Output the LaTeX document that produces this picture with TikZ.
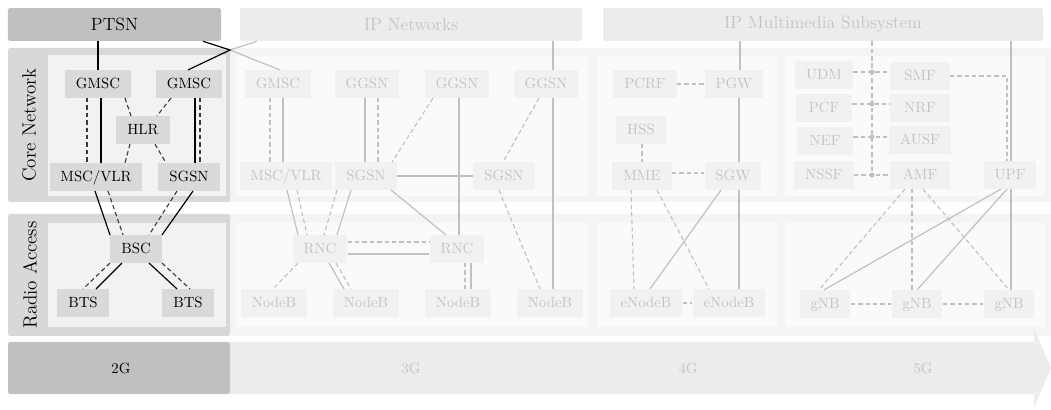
\documentclass[tikz,border=0pt]{standalone}
\usetikzlibrary{calc}
\definecolor{barA}{HTML}{C0C0C0}
\definecolor{bandA}{HTML}{D8D8D8}
\definecolor{panelA}{HTML}{F2F2F2}
\definecolor{nodeA}{HTML}{D9D9D9}
\definecolor{bandF}{HTML}{F4F4F4}
\definecolor{panelF}{HTML}{FAFAFA}
\definecolor{nodeF}{HTML}{F1F1F1}
\definecolor{barF}{HTML}{ECECEC}
\definecolor{txtF}{HTML}{C4C4C4}
\definecolor{lineF}{HTML}{C0C0C0}
\definecolor{dashAc}{HTML}{3A3A3A}
\tikzset{
  box/.style={inner xsep=7.4pt, inner ysep=0pt, minimum height=18.6pt, text height=1.6ex, text depth=0.25ex, font=\normalsize},
  nodeon/.style={box, fill=nodeA, text=black},
  nodeoff/.style={box, fill=nodeF, text=txtF},
  colL/.style={minimum width=37.9pt},
  colR/.style={minimum width=39.9pt},
  barbox/.style={rounded corners=1.5pt, font=\large, inner sep=0pt},
  sidelabel/.style={rotate=90, font=\fontsize{12.9pt}{15pt}\selectfont},
  solidA/.style={line width=0.8pt, black},
  dashA/.style={line width=0.75pt, dashAc, dash pattern=on 3pt off 2pt},
  solidF/.style={line width=0.8pt, lineF},
  dashF/.style={line width=0.75pt, lineF, dash pattern=on 3pt off 2pt},
  junc/.style={circle, fill=lineF, inner sep=0pt, minimum size=3.4pt, draw=none},
}
\begin{document}
\begin{tikzpicture}[x=0.676pt,y=-0.676pt]
\useasboundingbox (0,0) rectangle (1051,410);
% ---------- bands and panels ----------
\fill[bandF] (230,48) rectangle (1051,202);
\fill[bandF] (230,214) rectangle (1051,336);
\fill[bandA, rounded corners=1.5pt] (8,48) rectangle (230,202);
\fill[bandA, rounded corners=1.5pt] (8,214) rectangle (230,336);
\fill[panelA] (48,55) rectangle (226,196);
\fill[panelA] (48,223) rectangle (226,327);
\fill[panelF] (236,56) rectangle (588,196);
\fill[panelF] (597,56) rectangle (777,196);
\fill[panelF] (785,56) rectangle (1045,196);
\fill[panelF] (236,223) rectangle (588,327);
\fill[panelF] (597,223) rectangle (777,327);
\fill[panelF] (785,223) rectangle (1045,327);
\node[sidelabel] (cn) at (29,125) {Core Network};
\node[sidelabel] (ra) at (30,275) {Radio Access};
% ---------- top bars ----------
\node[barbox, fill=barA, text=black, minimum width=144pt, minimum height=22.3pt] (ptsn) at (114.5,24.5) {PTSN};
\node[barbox, fill=barF, text=txtF, minimum width=231.2pt, minimum height=22.3pt] (ipnet) at (411,24.5) {IP Networks};
\node[barbox, fill=barF, text=txtF, minimum width=297.4pt, minimum height=22.3pt] (ims) at (823,24.5) {IP Multimedia Subsystem};
% ---------- bottom arrow ----------
\fill[barF] (230,342) -- (1034,342) -- (1034,328) -- (1051,368) -- (1034,408) -- (1034,394) -- (230,394) -- cycle;
\fill[barA, rounded corners=1.5pt] (8,342) rectangle (230,394);
\node[text=black] (t2g) at (121,368) {2G};
\node[text=txtF] (t3g) at (411,368) {3G};
\node[text=txtF] (t4g) at (688,368) {4G};
\node[text=txtF] (t5g) at (923,368) {5G};
% ---------- 2G nodes ----------
\node[nodeon] (gmscA) at (98,84) {GMSC};
\node[nodeon] (gmscB) at (189,84) {GMSC};
\node[nodeon] (hlr) at (143,130) {HLR};
\node[nodeon] (mscA) at (96,177) {MSC/VLR};
\node[nodeon] (sgsnA) at (189,177) {SGSN};
\node[nodeon] (bsc) at (136,249) {BSC};
\node[nodeon] (btsA) at (83,303) {BTS};
\node[nodeon] (btsB) at (188,303) {BTS};
% ---------- 3G nodes ----------
\node[nodeoff] (gmscC) at (278,84) {GMSC};
\node[nodeoff] (ggsnA) at (367,84) {GGSN};
\node[nodeoff] (ggsnB) at (457,84) {GGSN};
\node[nodeoff] (ggsnC) at (546,84) {GGSN};
\node[nodeoff] (mscB) at (286,176) {MSC/VLR};
\node[nodeoff] (sgsnB) at (366,176) {SGSN};
\node[nodeoff] (sgsnC) at (504,176) {SGSN};
\node[nodeoff] (rncA) at (320,249) {RNC};
\node[nodeoff] (rncB) at (457,249) {RNC};
\node[nodeoff] (nbA) at (274,303) {NodeB};
\node[nodeoff] (nbB) at (366,303) {NodeB};
\node[nodeoff] (nbC) at (458,303) {NodeB};
\node[nodeoff] (nbD) at (550,303) {NodeB};
% ---------- 4G nodes ----------
\node[nodeoff] (pcrf) at (645,84) {PCRF};
\node[nodeoff] (pgw) at (734,84) {PGW};
\node[nodeoff] (hss) at (641,130) {HSS};
\node[nodeoff] (mme) at (642,176) {MME};
\node[nodeoff] (sgw) at (733,176) {SGW};
\node[nodeoff] (enbA) at (646,303) {eNodeB};
\node[nodeoff] (enbB) at (729,303) {eNodeB};
% ---------- 5G nodes ----------
\node[nodeoff, colL] (udm) at (824,75) {UDM};
\node[nodeoff, colR] (smf) at (920,76) {SMF};
\node[nodeoff, colL] (pcf) at (824,108) {PCF};
\node[nodeoff, colR] (nrf) at (920,108) {NRF};
\node[nodeoff, colL] (nef) at (825,141) {NEF};
\node[nodeoff, colR] (ausf) at (920,140) {AUSF};
\node[nodeoff, colL] (nssf) at (824,175) {NSSF};
\node[nodeoff, colR] (amf) at (920,175) {AMF};
\node[nodeoff] (upf) at (1010,175) {UPF};
\node[nodeoff] (gnbA) at (825,304) {gNB};
\node[nodeoff] (gnbB) at (917,304) {gNB};
\node[nodeoff] (gnbC) at (1009,304) {gNB};
% ---------- faded connectors: 3G ----------
\coordinate (cross) at (230,50);
\draw[solidF] ($(ipnet.south)+(-154,0)$) -- (cross) -- ($(gmscC.north)+(2,0)$);
\draw[solidF] ($(ipnet.south)+(142,0)$) -- ($(ggsnC.north)+(7,0)$);
\draw[solidF] ($(ggsnC.south)+(7,0)$) -- ($(nbD.north)+(3,0)$);
\draw[dashF] ($(gmscC.south)+(-8,0)$) -- ($(mscB.north)+(-16,0)$);
\draw[solidF] ($(gmscC.south)+(5,0)$) -- ($(mscB.north)+(-3,0)$);
\draw[solidF] ($(ggsnA.south)+(-2,0)$) -- ($(sgsnB.north)+(-1,0)$);
\draw[dashF] ($(ggsnA.south)+(11,0)$) -- ($(sgsnB.north)+(12,0)$);
\draw[dashF] ($(ggsnB.south)+(-24,0)$) -- ($(sgsnB.north)+(26,0)$);
\draw[solidF] ($(ggsnB.south)+(2,0)$) -- ($(rncB.north)+(2,0)$);
\draw[dashF] ($(ggsnC.south)+(-7,0)$) -- ($(sgsnC.north)+(-1,0)$);
\draw[solidF] (sgsnB.east) -- (sgsnC.west);
\draw[solidF] ($(sgsnB.south)+(25,0)$) -- ($(rncB.north)+(-11,0)$);
\draw[dashF] ($(sgsnC.south)+(-5,0)$) -- ($(nbD.north)+(-10,0)$);
\draw[solidF] ($(mscB.south)+(1,0)$) -- ($(rncA.north)+(-22,0)$);
\draw[dashF] ($(mscB.south)+(11,0)$) -- ($(rncA.north)+(-13,0)$);
\draw[dashF] ($(sgsnB.south)+(-29,0)$) -- ($(rncA.north)+(4,0)$);
\draw[solidF] ($(sgsnB.south)+(-15,0)$) -- ($(rncA.north)+(17,0)$);
\draw[dashF] ($(rncA.east)+(0,-7)$) -- ($(rncB.west)+(0,-7)$);
\draw[solidF] ($(rncA.east)+(0,5)$) -- ($(rncB.west)+(0,5)$);
\draw[dashF] ($(rncA.south)+(-22,0)$) -- ($(nbA.north)+(-1,0)$);
\draw[solidF] ($(rncA.south)+(9,0)$) -- ($(nbB.north)+(-22,0)$);
\draw[dashF] ($(rncA.south)+(16,0)$) -- ($(nbB.north)+(-15,0)$);
\draw[dashF] ($(rncB.south)+(8,0)$) -- ($(nbC.north)+(7,0)$);
\draw[solidF] ($(rncB.south)+(14,0)$) -- ($(nbC.north)+(13,0)$);
% ---------- faded connectors: 4G ----------
\draw[solidF] ($(ims.south)+(-83,0)$) -- ($(pgw.north)+(6,0)$);
\draw[dashF] (pcrf.east) -- (pgw.west);
\draw[solidF] ($(pgw.south)+(5,0)$) -- ($(sgw.north)+(6,0)$);
\draw[dashF] ($(hss.south)+(1,0)$) -- (mme.north);
\draw[dashF] ($(mme.east)+(0,-3)$) -- ($(sgw.west)+(0,-3)$);
\draw[dashF] ($(mme.south)+(-11,0)$) -- ($(enbA.north)+(-12,0)$);
\draw[dashF] ($(mme.south)+(15,0)$) -- ($(enbB.north)+(-20,0)$);
\draw[solidF] ($(sgw.south)+(-12,0)$) -- ($(enbA.north)+(4,0)$);
\draw[solidF] ($(sgw.south)+(6,0)$) -- ($(enbB.north)+(10,0)$);
\draw[dashF] (enbA.east) -- (enbB.west);
% ---------- faded connectors: 5G ----------
\coordinate (busA) at (872,72);
\coordinate (busB) at (872,104);
\coordinate (busC) at (872,137);
\coordinate (busD) at (872,175);
\draw[dashF] ($(ims.south)+(49,0)$) -- (busD);
\draw[dashF] (udm.east |- busA) -- (busA) -- (smf.west |- busA);
\draw[dashF] (pcf.east |- busB) -- (busB) -- (nrf.west |- busB);
\draw[dashF] (nef.east |- busC) -- (busC) -- (ausf.west |- busC);
\draw[dashF] (nssf.east) -- (busD) -- (amf.west);
\node[junc] (jA) at (busA) {};
\node[junc] (jB) at (busB) {};
\node[junc] (jC) at (busC) {};
\node[junc] (jD) at (busD) {};
\draw[dashF] (smf.east) -| ($(upf.north)+(-3,0)$);
\draw[solidF] ($(ims.south)+(188,0)$) -- ($(upf.north)+(1,0)$);
\draw[solidF] ($(upf.south)+(1,0)$) -- ($(gnbC.north)+(2,0)$);
\draw[dashF] ($(amf.south)+(-15,0)$) -- ($(gnbA.north)+(-6,0)$);
\draw[dashF] ($(amf.south)+(-8,0)$) -- ($(gnbB.north)+(-5,0)$);
\draw[dashF] ($(amf.south)+(3,0)$) -- ($(gnbC.north)+(0,0)$);
\draw[solidF] ($(upf.south)+(-9,0)$) -- ($(gnbA.north)+(-1,0)$);
\draw[solidF] ($(upf.south)+(-3,0)$) -- (gnbB.north);
\draw[dashF] (gnbA.east) -- (gnbB.west);
\draw[dashF] (gnbB.east) -- (gnbC.west);
% ---------- 2G connectors ----------
\draw[solidA] (gmscA.north |- ptsn.south) -- (gmscA.north);
\draw[solidA] ($(ptsn.south)+(88.5,0)$) -- (cross) -- ($(gmscB.north)+(-1,0)$);
\draw[dashA] ($(gmscA.south)+(-11,0)$) -- ($(mscA.north)+(-9,0)$);
\draw[solidA] ($(gmscA.south)+(3,0)$) -- ($(mscA.north)+(5,0)$);
\draw[dashA] ($(gmscA.south)+(27,0)$) -- ($(hlr.north)+(-12,0)$);
\draw[dashA] ($(gmscB.south)+(-18,0)$) -- ($(hlr.north)+(14,0)$);
\draw[dashA] ($(hlr.south)+(-13,0)$) -- ($(mscA.north)+(29,0)$);
\draw[dashA] ($(hlr.south)+(12,0)$) -- ($(sgsnA.north)+(-23,0)$);
\draw[solidA] ($(gmscB.south)+(6,0)$) -- ($(sgsnA.north)+(6,0)$);
\draw[dashA] ($(gmscB.south)+(11,0)$) -- ($(sgsnA.north)+(11,0)$);
\draw[solidA] ($(mscA.south)+(-1,0)$) -- ($(bsc.north)+(-26,0)$);
\draw[dashA] ($(mscA.south)+(12,0)$) -- ($(bsc.north)+(-13,0)$);
\draw[dashA] ($(sgsnA.south)+(-12,0)$) -- ($(bsc.north)+(13,0)$);
\draw[solidA] ($(sgsnA.south)+(4,0)$) -- ($(bsc.north)+(26,0)$);
\draw[dashA] ($(bsc.south)+(-26,0)$) -- (btsA.north);
\draw[solidA] ($(bsc.south)+(-14,0)$) -- ($(btsA.north)+(13,0)$);
\draw[solidA] ($(bsc.south)+(13,0)$) -- ($(btsB.north)+(-11,0)$);
\draw[dashA] ($(bsc.south)+(26,0)$) -- ($(btsB.north)+(2,0)$);
\end{tikzpicture}
\end{document}
